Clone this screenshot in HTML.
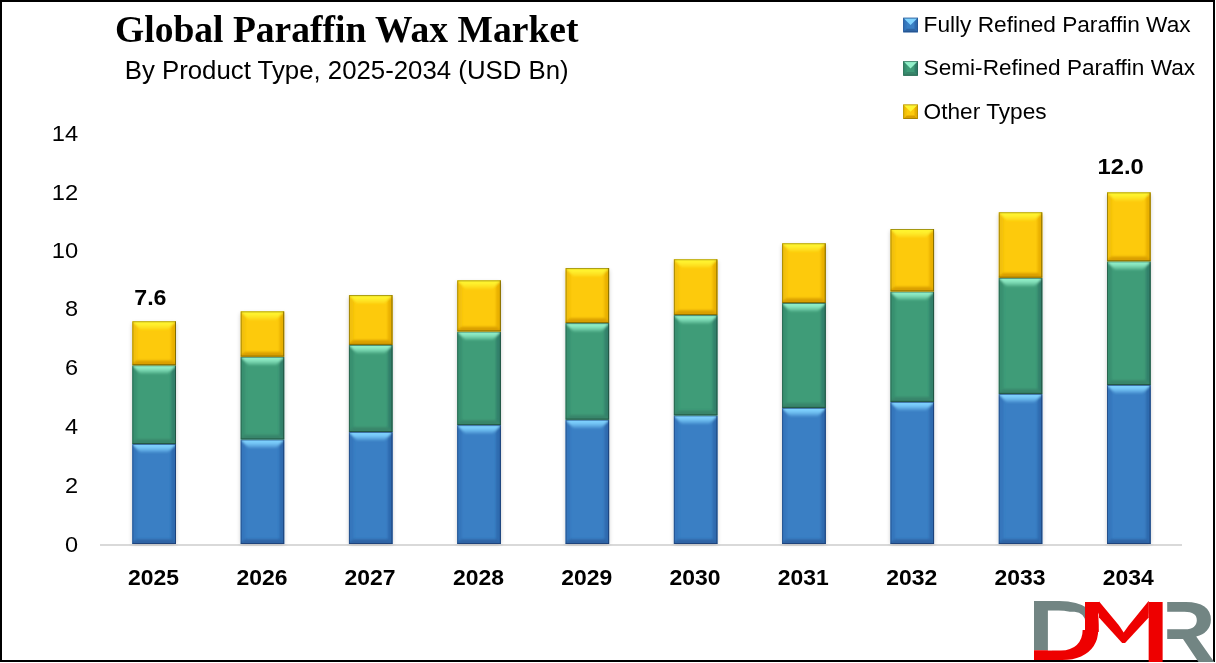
<!DOCTYPE html>
<html lang="en"><head><meta charset="utf-8"><title>Global Paraffin Wax Market</title>
<style>
html,body{margin:0;padding:0;background:#fff;}
body{width:1216px;height:663px;overflow:hidden;position:relative;}
svg{position:absolute;left:0;top:0;display:block;will-change:transform;}
text{font-family:"Liberation Sans",sans-serif;fill:#000;}
.title{font-family:"Liberation Serif",serif;font-weight:bold;font-size:38px;}
.sub{font-size:25.4px;}
.leg{font-size:21.8px;}
.yl{font-size:22px;text-anchor:end;}
.xl{font-size:22.2px;font-weight:bold;text-anchor:middle;}
.dl{font-size:22.3px;font-weight:bold;text-anchor:middle;}
</style></head><body>
<svg width="1216" height="663" viewBox="0 0 1216 663">
<defs><linearGradient id="ty" x1="0" y1="0" x2="0" y2="1"><stop offset="0" stop-color="#FFF530" stop-opacity="0.75"/><stop offset="0.3" stop-color="#FFF530"/><stop offset="0.55" stop-color="#FFF530" stop-opacity="0.9"/><stop offset="1" stop-color="#FFF530" stop-opacity="0.2"/></linearGradient>
<linearGradient id="tg" x1="0" y1="0" x2="0" y2="1"><stop offset="0" stop-color="#92F0C9" stop-opacity="0.75"/><stop offset="0.3" stop-color="#92F0C9"/><stop offset="0.55" stop-color="#92F0C9" stop-opacity="0.9"/><stop offset="1" stop-color="#92F0C9" stop-opacity="0.2"/></linearGradient>
<linearGradient id="tb" x1="0" y1="0" x2="0" y2="1"><stop offset="0" stop-color="#80D3FF" stop-opacity="0.75"/><stop offset="0.3" stop-color="#80D3FF"/><stop offset="0.55" stop-color="#80D3FF" stop-opacity="0.9"/><stop offset="1" stop-color="#80D3FF" stop-opacity="0.2"/></linearGradient>
<filter id="sh" x="-30%" y="-5%" width="160%" height="110%"><feGaussianBlur stdDeviation="2.2"/></filter>
<filter id="bl2" x="-20%" y="-20%" width="140%" height="140%"><feGaussianBlur stdDeviation="0.5"/></filter>
<filter id="bl" x="-20%" y="-20%" width="140%" height="140%"><feGaussianBlur stdDeviation="0.9"/></filter></defs>
<rect x="0" y="0" width="1216" height="663" fill="#fff"/>
<text class="title" x="115.0" y="42.3" textLength="463.5" lengthAdjust="spacingAndGlyphs">Global Paraffin Wax Market</text>
<text class="sub" x="124.7" y="78.8" textLength="444" lengthAdjust="spacingAndGlyphs">By Product Type, 2025-2034 (USD Bn)</text>
<text class="yl" x="78.1" y="552.0" textLength="13.1" lengthAdjust="spacingAndGlyphs">0</text>
<text class="yl" x="78.1" y="493.0" textLength="13.1" lengthAdjust="spacingAndGlyphs">2</text>
<text class="yl" x="78.1" y="433.9" textLength="13.1" lengthAdjust="spacingAndGlyphs">4</text>
<text class="yl" x="78.1" y="374.9" textLength="13.1" lengthAdjust="spacingAndGlyphs">6</text>
<text class="yl" x="78.1" y="316.1" textLength="13.1" lengthAdjust="spacingAndGlyphs">8</text>
<text class="yl" x="78.1" y="258.3" textLength="26.4" lengthAdjust="spacingAndGlyphs">10</text>
<text class="yl" x="78.1" y="200.0" textLength="26.4" lengthAdjust="spacingAndGlyphs">12</text>
<text class="yl" x="78.1" y="140.5" textLength="26.4" lengthAdjust="spacingAndGlyphs">14</text>
<rect x="100" y="544" width="1082" height="2" fill="#D9D9D9"/>
<rect x="132.3" y="323.2" width="43.7" height="220.8" fill="#000" opacity="0.2" filter="url(#sh)"/>
<clipPath id="c1"><rect x="132.3" y="444.0" width="43.7" height="100.0"/></clipPath>
<g clip-path="url(#c1)">
<rect x="132.3" y="444.0" width="43.7" height="100.0" fill="#3A7FC4"/>
<g filter="url(#bl)">
<rect x="129.3" y="441.0" width="7.8" height="106.0" fill="#3476BC"/>
<rect x="171.2" y="441.0" width="7.8" height="106.0" fill="#2D6AAF"/>
<polygon points="129.3,547.0 179.0,547.0 179.0,544.0 171.2,539.2 137.1,539.2 129.3,544.0" fill="#2D64A4"/>
<polygon points="131.3,441.0 177.0,441.0 177.0,443.0 168.0,452.6 140.3,452.6 131.3,443.0" fill="url(#tb)"/>
</g>
<rect x="132.8" y="444.5" width="42.7" height="99.0" fill="none" stroke="#1A3A70" stroke-width="1" opacity="0.62"/>
<rect x="175.0" y="444.0" width="1" height="100.0" fill="#1A3A70" opacity="0.55"/><rect x="132.3" y="543.0" width="43.7" height="1" fill="#1A3A70" opacity="0.35"/>
</g>
<clipPath id="c2"><rect x="132.3" y="365.2" width="43.7" height="78.8"/></clipPath>
<g clip-path="url(#c2)">
<rect x="132.3" y="365.2" width="43.7" height="78.8" fill="#3F9C78"/>
<g filter="url(#bl)">
<rect x="129.3" y="362.2" width="7.8" height="84.8" fill="#379070"/>
<rect x="171.2" y="362.2" width="7.8" height="84.8" fill="#31806A"/>
<polygon points="129.3,447.0 179.0,447.0 179.0,444.0 171.2,439.2 137.1,439.2 129.3,444.0" fill="#38856A"/>
<polygon points="131.3,362.2 177.0,362.2 177.0,364.2 168.0,373.8 140.3,373.8 131.3,364.2" fill="url(#tg)"/>
</g>
<rect x="132.8" y="365.7" width="42.7" height="77.8" fill="none" stroke="#1E4A3A" stroke-width="1" opacity="0.62"/>
<rect x="175.0" y="365.2" width="1" height="78.8" fill="#1E4A3A" opacity="0.55"/><rect x="132.3" y="443.0" width="43.7" height="1" fill="#1E4A3A" opacity="0.35"/>
</g>
<clipPath id="c3"><rect x="132.3" y="321.2" width="43.7" height="44.0"/></clipPath>
<g clip-path="url(#c3)">
<rect x="132.3" y="321.2" width="43.7" height="44.0" fill="#FDCA0C"/>
<g filter="url(#bl)">
<rect x="129.3" y="318.2" width="7.8" height="50.0" fill="#F2C008"/>
<rect x="171.2" y="318.2" width="7.8" height="50.0" fill="#E9B000"/>
<polygon points="129.3,368.2 179.0,368.2 179.0,365.2 171.2,360.4 137.1,360.4 129.3,365.2" fill="#D99F00"/>
<polygon points="131.3,318.2 177.0,318.2 177.0,320.2 168.0,329.8 140.3,329.8 131.3,320.2" fill="url(#ty)"/>
</g>
<rect x="132.8" y="321.7" width="42.7" height="43.0" fill="none" stroke="#6E5F00" stroke-width="1" opacity="0.62"/>
<rect x="175.0" y="321.2" width="1" height="44.0" fill="#6E5F00" opacity="0.55"/><rect x="132.3" y="364.2" width="43.7" height="1" fill="#6E5F00" opacity="0.35"/>
</g>
<text class="xl" x="153.6" y="584.6" textLength="51" lengthAdjust="spacingAndGlyphs">2025</text>
<rect x="240.6" y="313.3" width="43.7" height="230.7" fill="#000" opacity="0.2" filter="url(#sh)"/>
<clipPath id="c4"><rect x="240.6" y="439.5" width="43.7" height="104.5"/></clipPath>
<g clip-path="url(#c4)">
<rect x="240.6" y="439.5" width="43.7" height="104.5" fill="#3A7FC4"/>
<g filter="url(#bl)">
<rect x="237.6" y="436.5" width="7.8" height="110.5" fill="#3476BC"/>
<rect x="279.5" y="436.5" width="7.8" height="110.5" fill="#2D6AAF"/>
<polygon points="237.6,547.0 287.3,547.0 287.3,544.0 279.5,539.2 245.4,539.2 237.6,544.0" fill="#2D64A4"/>
<polygon points="239.6,436.5 285.3,436.5 285.3,438.5 276.3,448.1 248.6,448.1 239.6,438.5" fill="url(#tb)"/>
</g>
<rect x="241.1" y="440.0" width="42.7" height="103.5" fill="none" stroke="#1A3A70" stroke-width="1" opacity="0.62"/>
<rect x="283.3" y="439.5" width="1" height="104.5" fill="#1A3A70" opacity="0.55"/><rect x="240.6" y="543.0" width="43.7" height="1" fill="#1A3A70" opacity="0.35"/>
</g>
<clipPath id="c5"><rect x="240.6" y="356.7" width="43.7" height="82.8"/></clipPath>
<g clip-path="url(#c5)">
<rect x="240.6" y="356.7" width="43.7" height="82.8" fill="#3F9C78"/>
<g filter="url(#bl)">
<rect x="237.6" y="353.7" width="7.8" height="88.8" fill="#379070"/>
<rect x="279.5" y="353.7" width="7.8" height="88.8" fill="#31806A"/>
<polygon points="237.6,442.5 287.3,442.5 287.3,439.5 279.5,434.7 245.4,434.7 237.6,439.5" fill="#38856A"/>
<polygon points="239.6,353.7 285.3,353.7 285.3,355.7 276.3,365.3 248.6,365.3 239.6,355.7" fill="url(#tg)"/>
</g>
<rect x="241.1" y="357.2" width="42.7" height="81.8" fill="none" stroke="#1E4A3A" stroke-width="1" opacity="0.62"/>
<rect x="283.3" y="356.7" width="1" height="82.8" fill="#1E4A3A" opacity="0.55"/><rect x="240.6" y="438.5" width="43.7" height="1" fill="#1E4A3A" opacity="0.35"/>
</g>
<clipPath id="c6"><rect x="240.6" y="311.3" width="43.7" height="45.4"/></clipPath>
<g clip-path="url(#c6)">
<rect x="240.6" y="311.3" width="43.7" height="45.4" fill="#FDCA0C"/>
<g filter="url(#bl)">
<rect x="237.6" y="308.3" width="7.8" height="51.4" fill="#F2C008"/>
<rect x="279.5" y="308.3" width="7.8" height="51.4" fill="#E9B000"/>
<polygon points="237.6,359.7 287.3,359.7 287.3,356.7 279.5,351.9 245.4,351.9 237.6,356.7" fill="#D99F00"/>
<polygon points="239.6,308.3 285.3,308.3 285.3,310.3 276.3,319.9 248.6,319.9 239.6,310.3" fill="url(#ty)"/>
</g>
<rect x="241.1" y="311.8" width="42.7" height="44.4" fill="none" stroke="#6E5F00" stroke-width="1" opacity="0.62"/>
<rect x="283.3" y="311.3" width="1" height="45.4" fill="#6E5F00" opacity="0.55"/><rect x="240.6" y="355.7" width="43.7" height="1" fill="#6E5F00" opacity="0.35"/>
</g>
<text class="xl" x="261.9" y="584.6" textLength="51" lengthAdjust="spacingAndGlyphs">2026</text>
<rect x="348.9" y="297.1" width="43.7" height="246.9" fill="#000" opacity="0.2" filter="url(#sh)"/>
<clipPath id="c7"><rect x="348.9" y="432.0" width="43.7" height="112.0"/></clipPath>
<g clip-path="url(#c7)">
<rect x="348.9" y="432.0" width="43.7" height="112.0" fill="#3A7FC4"/>
<g filter="url(#bl)">
<rect x="345.9" y="429.0" width="7.8" height="118.0" fill="#3476BC"/>
<rect x="387.8" y="429.0" width="7.8" height="118.0" fill="#2D6AAF"/>
<polygon points="345.9,547.0 395.6,547.0 395.6,544.0 387.8,539.2 353.7,539.2 345.9,544.0" fill="#2D64A4"/>
<polygon points="347.9,429.0 393.6,429.0 393.6,431.0 384.6,440.6 356.9,440.6 347.9,431.0" fill="url(#tb)"/>
</g>
<rect x="349.4" y="432.5" width="42.7" height="111.0" fill="none" stroke="#1A3A70" stroke-width="1" opacity="0.62"/>
<rect x="391.6" y="432.0" width="1" height="112.0" fill="#1A3A70" opacity="0.55"/><rect x="348.9" y="543.0" width="43.7" height="1" fill="#1A3A70" opacity="0.35"/>
</g>
<clipPath id="c8"><rect x="348.9" y="344.9" width="43.7" height="87.1"/></clipPath>
<g clip-path="url(#c8)">
<rect x="348.9" y="344.9" width="43.7" height="87.1" fill="#3F9C78"/>
<g filter="url(#bl)">
<rect x="345.9" y="341.9" width="7.8" height="93.1" fill="#379070"/>
<rect x="387.8" y="341.9" width="7.8" height="93.1" fill="#31806A"/>
<polygon points="345.9,435.0 395.6,435.0 395.6,432.0 387.8,427.2 353.7,427.2 345.9,432.0" fill="#38856A"/>
<polygon points="347.9,341.9 393.6,341.9 393.6,343.9 384.6,353.5 356.9,353.5 347.9,343.9" fill="url(#tg)"/>
</g>
<rect x="349.4" y="345.4" width="42.7" height="86.1" fill="none" stroke="#1E4A3A" stroke-width="1" opacity="0.62"/>
<rect x="391.6" y="344.9" width="1" height="87.1" fill="#1E4A3A" opacity="0.55"/><rect x="348.9" y="431.0" width="43.7" height="1" fill="#1E4A3A" opacity="0.35"/>
</g>
<clipPath id="c9"><rect x="348.9" y="295.1" width="43.7" height="49.8"/></clipPath>
<g clip-path="url(#c9)">
<rect x="348.9" y="295.1" width="43.7" height="49.8" fill="#FDCA0C"/>
<g filter="url(#bl)">
<rect x="345.9" y="292.1" width="7.8" height="55.8" fill="#F2C008"/>
<rect x="387.8" y="292.1" width="7.8" height="55.8" fill="#E9B000"/>
<polygon points="345.9,347.9 395.6,347.9 395.6,344.9 387.8,340.1 353.7,340.1 345.9,344.9" fill="#D99F00"/>
<polygon points="347.9,292.1 393.6,292.1 393.6,294.1 384.6,303.7 356.9,303.7 347.9,294.1" fill="url(#ty)"/>
</g>
<rect x="349.4" y="295.6" width="42.7" height="48.8" fill="none" stroke="#6E5F00" stroke-width="1" opacity="0.62"/>
<rect x="391.6" y="295.1" width="1" height="49.8" fill="#6E5F00" opacity="0.55"/><rect x="348.9" y="343.9" width="43.7" height="1" fill="#6E5F00" opacity="0.35"/>
</g>
<text class="xl" x="370.1" y="584.6" textLength="51" lengthAdjust="spacingAndGlyphs">2027</text>
<rect x="457.2" y="282.3" width="43.7" height="261.7" fill="#000" opacity="0.2" filter="url(#sh)"/>
<clipPath id="c10"><rect x="457.2" y="425.1" width="43.7" height="118.9"/></clipPath>
<g clip-path="url(#c10)">
<rect x="457.2" y="425.1" width="43.7" height="118.9" fill="#3A7FC4"/>
<g filter="url(#bl)">
<rect x="454.2" y="422.1" width="7.8" height="124.9" fill="#3476BC"/>
<rect x="496.1" y="422.1" width="7.8" height="124.9" fill="#2D6AAF"/>
<polygon points="454.2,547.0 503.9,547.0 503.9,544.0 496.1,539.2 462.0,539.2 454.2,544.0" fill="#2D64A4"/>
<polygon points="456.2,422.1 501.9,422.1 501.9,424.1 492.9,433.7 465.2,433.7 456.2,424.1" fill="url(#tb)"/>
</g>
<rect x="457.7" y="425.6" width="42.7" height="117.9" fill="none" stroke="#1A3A70" stroke-width="1" opacity="0.62"/>
<rect x="499.9" y="425.1" width="1" height="118.9" fill="#1A3A70" opacity="0.55"/><rect x="457.2" y="543.0" width="43.7" height="1" fill="#1A3A70" opacity="0.35"/>
</g>
<clipPath id="c11"><rect x="457.2" y="331.5" width="43.7" height="93.6"/></clipPath>
<g clip-path="url(#c11)">
<rect x="457.2" y="331.5" width="43.7" height="93.6" fill="#3F9C78"/>
<g filter="url(#bl)">
<rect x="454.2" y="328.5" width="7.8" height="99.6" fill="#379070"/>
<rect x="496.1" y="328.5" width="7.8" height="99.6" fill="#31806A"/>
<polygon points="454.2,428.1 503.9,428.1 503.9,425.1 496.1,420.3 462.0,420.3 454.2,425.1" fill="#38856A"/>
<polygon points="456.2,328.5 501.9,328.5 501.9,330.5 492.9,340.1 465.2,340.1 456.2,330.5" fill="url(#tg)"/>
</g>
<rect x="457.7" y="332.0" width="42.7" height="92.6" fill="none" stroke="#1E4A3A" stroke-width="1" opacity="0.62"/>
<rect x="499.9" y="331.5" width="1" height="93.6" fill="#1E4A3A" opacity="0.55"/><rect x="457.2" y="424.1" width="43.7" height="1" fill="#1E4A3A" opacity="0.35"/>
</g>
<clipPath id="c12"><rect x="457.2" y="280.3" width="43.7" height="51.2"/></clipPath>
<g clip-path="url(#c12)">
<rect x="457.2" y="280.3" width="43.7" height="51.2" fill="#FDCA0C"/>
<g filter="url(#bl)">
<rect x="454.2" y="277.3" width="7.8" height="57.2" fill="#F2C008"/>
<rect x="496.1" y="277.3" width="7.8" height="57.2" fill="#E9B000"/>
<polygon points="454.2,334.5 503.9,334.5 503.9,331.5 496.1,326.7 462.0,326.7 454.2,331.5" fill="#D99F00"/>
<polygon points="456.2,277.3 501.9,277.3 501.9,279.3 492.9,288.9 465.2,288.9 456.2,279.3" fill="url(#ty)"/>
</g>
<rect x="457.7" y="280.8" width="42.7" height="50.2" fill="none" stroke="#6E5F00" stroke-width="1" opacity="0.62"/>
<rect x="499.9" y="280.3" width="1" height="51.2" fill="#6E5F00" opacity="0.55"/><rect x="457.2" y="330.5" width="43.7" height="1" fill="#6E5F00" opacity="0.35"/>
</g>
<text class="xl" x="478.4" y="584.6" textLength="51" lengthAdjust="spacingAndGlyphs">2028</text>
<rect x="565.5" y="270.1" width="43.7" height="273.9" fill="#000" opacity="0.2" filter="url(#sh)"/>
<clipPath id="c13"><rect x="565.5" y="419.7" width="43.7" height="124.3"/></clipPath>
<g clip-path="url(#c13)">
<rect x="565.5" y="419.7" width="43.7" height="124.3" fill="#3A7FC4"/>
<g filter="url(#bl)">
<rect x="562.5" y="416.7" width="7.8" height="130.3" fill="#3476BC"/>
<rect x="604.4" y="416.7" width="7.8" height="130.3" fill="#2D6AAF"/>
<polygon points="562.5,547.0 612.2,547.0 612.2,544.0 604.4,539.2 570.3,539.2 562.5,544.0" fill="#2D64A4"/>
<polygon points="564.5,416.7 610.2,416.7 610.2,418.7 601.2,428.3 573.5,428.3 564.5,418.7" fill="url(#tb)"/>
</g>
<rect x="566.0" y="420.2" width="42.7" height="123.3" fill="none" stroke="#1A3A70" stroke-width="1" opacity="0.62"/>
<rect x="608.2" y="419.7" width="1" height="124.3" fill="#1A3A70" opacity="0.55"/><rect x="565.5" y="543.0" width="43.7" height="1" fill="#1A3A70" opacity="0.35"/>
</g>
<clipPath id="c14"><rect x="565.5" y="323.1" width="43.7" height="96.6"/></clipPath>
<g clip-path="url(#c14)">
<rect x="565.5" y="323.1" width="43.7" height="96.6" fill="#3F9C78"/>
<g filter="url(#bl)">
<rect x="562.5" y="320.1" width="7.8" height="102.6" fill="#379070"/>
<rect x="604.4" y="320.1" width="7.8" height="102.6" fill="#31806A"/>
<polygon points="562.5,422.7 612.2,422.7 612.2,419.7 604.4,414.9 570.3,414.9 562.5,419.7" fill="#38856A"/>
<polygon points="564.5,320.1 610.2,320.1 610.2,322.1 601.2,331.7 573.5,331.7 564.5,322.1" fill="url(#tg)"/>
</g>
<rect x="566.0" y="323.6" width="42.7" height="95.6" fill="none" stroke="#1E4A3A" stroke-width="1" opacity="0.62"/>
<rect x="608.2" y="323.1" width="1" height="96.6" fill="#1E4A3A" opacity="0.55"/><rect x="565.5" y="418.7" width="43.7" height="1" fill="#1E4A3A" opacity="0.35"/>
</g>
<clipPath id="c15"><rect x="565.5" y="268.1" width="43.7" height="55.0"/></clipPath>
<g clip-path="url(#c15)">
<rect x="565.5" y="268.1" width="43.7" height="55.0" fill="#FDCA0C"/>
<g filter="url(#bl)">
<rect x="562.5" y="265.1" width="7.8" height="61.0" fill="#F2C008"/>
<rect x="604.4" y="265.1" width="7.8" height="61.0" fill="#E9B000"/>
<polygon points="562.5,326.1 612.2,326.1 612.2,323.1 604.4,318.3 570.3,318.3 562.5,323.1" fill="#D99F00"/>
<polygon points="564.5,265.1 610.2,265.1 610.2,267.1 601.2,276.7 573.5,276.7 564.5,267.1" fill="url(#ty)"/>
</g>
<rect x="566.0" y="268.6" width="42.7" height="54.0" fill="none" stroke="#6E5F00" stroke-width="1" opacity="0.62"/>
<rect x="608.2" y="268.1" width="1" height="55.0" fill="#6E5F00" opacity="0.55"/><rect x="565.5" y="322.1" width="43.7" height="1" fill="#6E5F00" opacity="0.35"/>
</g>
<text class="xl" x="586.8" y="584.6" textLength="51" lengthAdjust="spacingAndGlyphs">2029</text>
<rect x="673.8" y="261.2" width="43.7" height="282.8" fill="#000" opacity="0.2" filter="url(#sh)"/>
<clipPath id="c16"><rect x="673.8" y="415.4" width="43.7" height="128.6"/></clipPath>
<g clip-path="url(#c16)">
<rect x="673.8" y="415.4" width="43.7" height="128.6" fill="#3A7FC4"/>
<g filter="url(#bl)">
<rect x="670.8" y="412.4" width="7.8" height="134.6" fill="#3476BC"/>
<rect x="712.7" y="412.4" width="7.8" height="134.6" fill="#2D6AAF"/>
<polygon points="670.8,547.0 720.5,547.0 720.5,544.0 712.7,539.2 678.6,539.2 670.8,544.0" fill="#2D64A4"/>
<polygon points="672.8,412.4 718.5,412.4 718.5,414.4 709.5,424.0 681.8,424.0 672.8,414.4" fill="url(#tb)"/>
</g>
<rect x="674.3" y="415.9" width="42.7" height="127.6" fill="none" stroke="#1A3A70" stroke-width="1" opacity="0.62"/>
<rect x="716.5" y="415.4" width="1" height="128.6" fill="#1A3A70" opacity="0.55"/><rect x="673.8" y="543.0" width="43.7" height="1" fill="#1A3A70" opacity="0.35"/>
</g>
<clipPath id="c17"><rect x="673.8" y="315.1" width="43.7" height="100.3"/></clipPath>
<g clip-path="url(#c17)">
<rect x="673.8" y="315.1" width="43.7" height="100.3" fill="#3F9C78"/>
<g filter="url(#bl)">
<rect x="670.8" y="312.1" width="7.8" height="106.3" fill="#379070"/>
<rect x="712.7" y="312.1" width="7.8" height="106.3" fill="#31806A"/>
<polygon points="670.8,418.4 720.5,418.4 720.5,415.4 712.7,410.6 678.6,410.6 670.8,415.4" fill="#38856A"/>
<polygon points="672.8,312.1 718.5,312.1 718.5,314.1 709.5,323.7 681.8,323.7 672.8,314.1" fill="url(#tg)"/>
</g>
<rect x="674.3" y="315.6" width="42.7" height="99.3" fill="none" stroke="#1E4A3A" stroke-width="1" opacity="0.62"/>
<rect x="716.5" y="315.1" width="1" height="100.3" fill="#1E4A3A" opacity="0.55"/><rect x="673.8" y="414.4" width="43.7" height="1" fill="#1E4A3A" opacity="0.35"/>
</g>
<clipPath id="c18"><rect x="673.8" y="259.2" width="43.7" height="55.9"/></clipPath>
<g clip-path="url(#c18)">
<rect x="673.8" y="259.2" width="43.7" height="55.9" fill="#FDCA0C"/>
<g filter="url(#bl)">
<rect x="670.8" y="256.2" width="7.8" height="61.9" fill="#F2C008"/>
<rect x="712.7" y="256.2" width="7.8" height="61.9" fill="#E9B000"/>
<polygon points="670.8,318.1 720.5,318.1 720.5,315.1 712.7,310.3 678.6,310.3 670.8,315.1" fill="#D99F00"/>
<polygon points="672.8,256.2 718.5,256.2 718.5,258.2 709.5,267.8 681.8,267.8 672.8,258.2" fill="url(#ty)"/>
</g>
<rect x="674.3" y="259.7" width="42.7" height="54.9" fill="none" stroke="#6E5F00" stroke-width="1" opacity="0.62"/>
<rect x="716.5" y="259.2" width="1" height="55.9" fill="#6E5F00" opacity="0.55"/><rect x="673.8" y="314.1" width="43.7" height="1" fill="#6E5F00" opacity="0.35"/>
</g>
<text class="xl" x="695.0" y="584.6" textLength="51" lengthAdjust="spacingAndGlyphs">2030</text>
<rect x="782.1" y="245.2" width="43.7" height="298.8" fill="#000" opacity="0.2" filter="url(#sh)"/>
<clipPath id="c19"><rect x="782.1" y="407.9" width="43.7" height="136.1"/></clipPath>
<g clip-path="url(#c19)">
<rect x="782.1" y="407.9" width="43.7" height="136.1" fill="#3A7FC4"/>
<g filter="url(#bl)">
<rect x="779.1" y="404.9" width="7.8" height="142.1" fill="#3476BC"/>
<rect x="821.0" y="404.9" width="7.8" height="142.1" fill="#2D6AAF"/>
<polygon points="779.1,547.0 828.8,547.0 828.8,544.0 821.0,539.2 786.9,539.2 779.1,544.0" fill="#2D64A4"/>
<polygon points="781.1,404.9 826.8,404.9 826.8,406.9 817.8,416.5 790.1,416.5 781.1,406.9" fill="url(#tb)"/>
</g>
<rect x="782.6" y="408.4" width="42.7" height="135.1" fill="none" stroke="#1A3A70" stroke-width="1" opacity="0.62"/>
<rect x="824.8" y="407.9" width="1" height="136.1" fill="#1A3A70" opacity="0.55"/><rect x="782.1" y="543.0" width="43.7" height="1" fill="#1A3A70" opacity="0.35"/>
</g>
<clipPath id="c20"><rect x="782.1" y="303.0" width="43.7" height="104.9"/></clipPath>
<g clip-path="url(#c20)">
<rect x="782.1" y="303.0" width="43.7" height="104.9" fill="#3F9C78"/>
<g filter="url(#bl)">
<rect x="779.1" y="300.0" width="7.8" height="110.9" fill="#379070"/>
<rect x="821.0" y="300.0" width="7.8" height="110.9" fill="#31806A"/>
<polygon points="779.1,410.9 828.8,410.9 828.8,407.9 821.0,403.1 786.9,403.1 779.1,407.9" fill="#38856A"/>
<polygon points="781.1,300.0 826.8,300.0 826.8,302.0 817.8,311.6 790.1,311.6 781.1,302.0" fill="url(#tg)"/>
</g>
<rect x="782.6" y="303.5" width="42.7" height="103.9" fill="none" stroke="#1E4A3A" stroke-width="1" opacity="0.62"/>
<rect x="824.8" y="303.0" width="1" height="104.9" fill="#1E4A3A" opacity="0.55"/><rect x="782.1" y="406.9" width="43.7" height="1" fill="#1E4A3A" opacity="0.35"/>
</g>
<clipPath id="c21"><rect x="782.1" y="243.2" width="43.7" height="59.8"/></clipPath>
<g clip-path="url(#c21)">
<rect x="782.1" y="243.2" width="43.7" height="59.8" fill="#FDCA0C"/>
<g filter="url(#bl)">
<rect x="779.1" y="240.2" width="7.8" height="65.8" fill="#F2C008"/>
<rect x="821.0" y="240.2" width="7.8" height="65.8" fill="#E9B000"/>
<polygon points="779.1,306.0 828.8,306.0 828.8,303.0 821.0,298.2 786.9,298.2 779.1,303.0" fill="#D99F00"/>
<polygon points="781.1,240.2 826.8,240.2 826.8,242.2 817.8,251.8 790.1,251.8 781.1,242.2" fill="url(#ty)"/>
</g>
<rect x="782.6" y="243.7" width="42.7" height="58.8" fill="none" stroke="#6E5F00" stroke-width="1" opacity="0.62"/>
<rect x="824.8" y="243.2" width="1" height="59.8" fill="#6E5F00" opacity="0.55"/><rect x="782.1" y="302.0" width="43.7" height="1" fill="#6E5F00" opacity="0.35"/>
</g>
<text class="xl" x="803.3" y="584.6" textLength="51" lengthAdjust="spacingAndGlyphs">2031</text>
<rect x="890.4" y="231.0" width="43.7" height="313.0" fill="#000" opacity="0.2" filter="url(#sh)"/>
<clipPath id="c22"><rect x="890.4" y="401.9" width="43.7" height="142.1"/></clipPath>
<g clip-path="url(#c22)">
<rect x="890.4" y="401.9" width="43.7" height="142.1" fill="#3A7FC4"/>
<g filter="url(#bl)">
<rect x="887.4" y="398.9" width="7.8" height="148.1" fill="#3476BC"/>
<rect x="929.3" y="398.9" width="7.8" height="148.1" fill="#2D6AAF"/>
<polygon points="887.4,547.0 937.1,547.0 937.1,544.0 929.3,539.2 895.2,539.2 887.4,544.0" fill="#2D64A4"/>
<polygon points="889.4,398.9 935.1,398.9 935.1,400.9 926.1,410.5 898.4,410.5 889.4,400.9" fill="url(#tb)"/>
</g>
<rect x="890.9" y="402.4" width="42.7" height="141.1" fill="none" stroke="#1A3A70" stroke-width="1" opacity="0.62"/>
<rect x="933.1" y="401.9" width="1" height="142.1" fill="#1A3A70" opacity="0.55"/><rect x="890.4" y="543.0" width="43.7" height="1" fill="#1A3A70" opacity="0.35"/>
</g>
<clipPath id="c23"><rect x="890.4" y="291.5" width="43.7" height="110.4"/></clipPath>
<g clip-path="url(#c23)">
<rect x="890.4" y="291.5" width="43.7" height="110.4" fill="#3F9C78"/>
<g filter="url(#bl)">
<rect x="887.4" y="288.5" width="7.8" height="116.4" fill="#379070"/>
<rect x="929.3" y="288.5" width="7.8" height="116.4" fill="#31806A"/>
<polygon points="887.4,404.9 937.1,404.9 937.1,401.9 929.3,397.1 895.2,397.1 887.4,401.9" fill="#38856A"/>
<polygon points="889.4,288.5 935.1,288.5 935.1,290.5 926.1,300.1 898.4,300.1 889.4,290.5" fill="url(#tg)"/>
</g>
<rect x="890.9" y="292.0" width="42.7" height="109.4" fill="none" stroke="#1E4A3A" stroke-width="1" opacity="0.62"/>
<rect x="933.1" y="291.5" width="1" height="110.4" fill="#1E4A3A" opacity="0.55"/><rect x="890.4" y="400.9" width="43.7" height="1" fill="#1E4A3A" opacity="0.35"/>
</g>
<clipPath id="c24"><rect x="890.4" y="229.0" width="43.7" height="62.5"/></clipPath>
<g clip-path="url(#c24)">
<rect x="890.4" y="229.0" width="43.7" height="62.5" fill="#FDCA0C"/>
<g filter="url(#bl)">
<rect x="887.4" y="226.0" width="7.8" height="68.5" fill="#F2C008"/>
<rect x="929.3" y="226.0" width="7.8" height="68.5" fill="#E9B000"/>
<polygon points="887.4,294.5 937.1,294.5 937.1,291.5 929.3,286.7 895.2,286.7 887.4,291.5" fill="#D99F00"/>
<polygon points="889.4,226.0 935.1,226.0 935.1,228.0 926.1,237.6 898.4,237.6 889.4,228.0" fill="url(#ty)"/>
</g>
<rect x="890.9" y="229.5" width="42.7" height="61.5" fill="none" stroke="#6E5F00" stroke-width="1" opacity="0.62"/>
<rect x="933.1" y="229.0" width="1" height="62.5" fill="#6E5F00" opacity="0.55"/><rect x="890.4" y="290.5" width="43.7" height="1" fill="#6E5F00" opacity="0.35"/>
</g>
<text class="xl" x="911.7" y="584.6" textLength="51" lengthAdjust="spacingAndGlyphs">2032</text>
<rect x="998.7" y="214.2" width="43.7" height="329.8" fill="#000" opacity="0.2" filter="url(#sh)"/>
<clipPath id="c25"><rect x="998.7" y="393.9" width="43.7" height="150.1"/></clipPath>
<g clip-path="url(#c25)">
<rect x="998.7" y="393.9" width="43.7" height="150.1" fill="#3A7FC4"/>
<g filter="url(#bl)">
<rect x="995.7" y="390.9" width="7.8" height="156.1" fill="#3476BC"/>
<rect x="1037.6" y="390.9" width="7.8" height="156.1" fill="#2D6AAF"/>
<polygon points="995.7,547.0 1045.4,547.0 1045.4,544.0 1037.6,539.2 1003.5,539.2 995.7,544.0" fill="#2D64A4"/>
<polygon points="997.7,390.9 1043.4,390.9 1043.4,392.9 1034.4,402.5 1006.7,402.5 997.7,392.9" fill="url(#tb)"/>
</g>
<rect x="999.2" y="394.4" width="42.7" height="149.1" fill="none" stroke="#1A3A70" stroke-width="1" opacity="0.62"/>
<rect x="1041.4" y="393.9" width="1" height="150.1" fill="#1A3A70" opacity="0.55"/><rect x="998.7" y="543.0" width="43.7" height="1" fill="#1A3A70" opacity="0.35"/>
</g>
<clipPath id="c26"><rect x="998.7" y="277.8" width="43.7" height="116.1"/></clipPath>
<g clip-path="url(#c26)">
<rect x="998.7" y="277.8" width="43.7" height="116.1" fill="#3F9C78"/>
<g filter="url(#bl)">
<rect x="995.7" y="274.8" width="7.8" height="122.1" fill="#379070"/>
<rect x="1037.6" y="274.8" width="7.8" height="122.1" fill="#31806A"/>
<polygon points="995.7,396.9 1045.4,396.9 1045.4,393.9 1037.6,389.1 1003.5,389.1 995.7,393.9" fill="#38856A"/>
<polygon points="997.7,274.8 1043.4,274.8 1043.4,276.8 1034.4,286.4 1006.7,286.4 997.7,276.8" fill="url(#tg)"/>
</g>
<rect x="999.2" y="278.3" width="42.7" height="115.1" fill="none" stroke="#1E4A3A" stroke-width="1" opacity="0.62"/>
<rect x="1041.4" y="277.8" width="1" height="116.1" fill="#1E4A3A" opacity="0.55"/><rect x="998.7" y="392.9" width="43.7" height="1" fill="#1E4A3A" opacity="0.35"/>
</g>
<clipPath id="c27"><rect x="998.7" y="212.2" width="43.7" height="65.6"/></clipPath>
<g clip-path="url(#c27)">
<rect x="998.7" y="212.2" width="43.7" height="65.6" fill="#FDCA0C"/>
<g filter="url(#bl)">
<rect x="995.7" y="209.2" width="7.8" height="71.6" fill="#F2C008"/>
<rect x="1037.6" y="209.2" width="7.8" height="71.6" fill="#E9B000"/>
<polygon points="995.7,280.8 1045.4,280.8 1045.4,277.8 1037.6,273.0 1003.5,273.0 995.7,277.8" fill="#D99F00"/>
<polygon points="997.7,209.2 1043.4,209.2 1043.4,211.2 1034.4,220.8 1006.7,220.8 997.7,211.2" fill="url(#ty)"/>
</g>
<rect x="999.2" y="212.7" width="42.7" height="64.6" fill="none" stroke="#6E5F00" stroke-width="1" opacity="0.62"/>
<rect x="1041.4" y="212.2" width="1" height="65.6" fill="#6E5F00" opacity="0.55"/><rect x="998.7" y="276.8" width="43.7" height="1" fill="#6E5F00" opacity="0.35"/>
</g>
<text class="xl" x="1020.0" y="584.6" textLength="51" lengthAdjust="spacingAndGlyphs">2033</text>
<rect x="1107.0" y="194.3" width="43.7" height="349.7" fill="#000" opacity="0.2" filter="url(#sh)"/>
<clipPath id="c28"><rect x="1107.0" y="385.0" width="43.7" height="159.0"/></clipPath>
<g clip-path="url(#c28)">
<rect x="1107.0" y="385.0" width="43.7" height="159.0" fill="#3A7FC4"/>
<g filter="url(#bl)">
<rect x="1104.0" y="382.0" width="7.8" height="165.0" fill="#3476BC"/>
<rect x="1145.9" y="382.0" width="7.8" height="165.0" fill="#2D6AAF"/>
<polygon points="1104.0,547.0 1153.7,547.0 1153.7,544.0 1145.9,539.2 1111.8,539.2 1104.0,544.0" fill="#2D64A4"/>
<polygon points="1106.0,382.0 1151.7,382.0 1151.7,384.0 1142.7,393.6 1115.0,393.6 1106.0,384.0" fill="url(#tb)"/>
</g>
<rect x="1107.5" y="385.5" width="42.7" height="158.0" fill="none" stroke="#1A3A70" stroke-width="1" opacity="0.62"/>
<rect x="1149.7" y="385.0" width="1" height="159.0" fill="#1A3A70" opacity="0.55"/><rect x="1107.0" y="543.0" width="43.7" height="1" fill="#1A3A70" opacity="0.35"/>
</g>
<clipPath id="c29"><rect x="1107.0" y="261.3" width="43.7" height="123.7"/></clipPath>
<g clip-path="url(#c29)">
<rect x="1107.0" y="261.3" width="43.7" height="123.7" fill="#3F9C78"/>
<g filter="url(#bl)">
<rect x="1104.0" y="258.3" width="7.8" height="129.7" fill="#379070"/>
<rect x="1145.9" y="258.3" width="7.8" height="129.7" fill="#31806A"/>
<polygon points="1104.0,388.0 1153.7,388.0 1153.7,385.0 1145.9,380.2 1111.8,380.2 1104.0,385.0" fill="#38856A"/>
<polygon points="1106.0,258.3 1151.7,258.3 1151.7,260.3 1142.7,269.9 1115.0,269.9 1106.0,260.3" fill="url(#tg)"/>
</g>
<rect x="1107.5" y="261.8" width="42.7" height="122.7" fill="none" stroke="#1E4A3A" stroke-width="1" opacity="0.62"/>
<rect x="1149.7" y="261.3" width="1" height="123.7" fill="#1E4A3A" opacity="0.55"/><rect x="1107.0" y="384.0" width="43.7" height="1" fill="#1E4A3A" opacity="0.35"/>
</g>
<clipPath id="c30"><rect x="1107.0" y="192.3" width="43.7" height="69.0"/></clipPath>
<g clip-path="url(#c30)">
<rect x="1107.0" y="192.3" width="43.7" height="69.0" fill="#FDCA0C"/>
<g filter="url(#bl)">
<rect x="1104.0" y="189.3" width="7.8" height="75.0" fill="#F2C008"/>
<rect x="1145.9" y="189.3" width="7.8" height="75.0" fill="#E9B000"/>
<polygon points="1104.0,264.3 1153.7,264.3 1153.7,261.3 1145.9,256.5 1111.8,256.5 1104.0,261.3" fill="#D99F00"/>
<polygon points="1106.0,189.3 1151.7,189.3 1151.7,191.3 1142.7,200.9 1115.0,200.9 1106.0,191.3" fill="url(#ty)"/>
</g>
<rect x="1107.5" y="192.8" width="42.7" height="68.0" fill="none" stroke="#6E5F00" stroke-width="1" opacity="0.62"/>
<rect x="1149.7" y="192.3" width="1" height="69.0" fill="#6E5F00" opacity="0.55"/><rect x="1107.0" y="260.3" width="43.7" height="1" fill="#6E5F00" opacity="0.35"/>
</g>
<text class="xl" x="1128.2" y="584.6" textLength="51" lengthAdjust="spacingAndGlyphs">2034</text>
<text class="dl" x="150.4" y="304.6" textLength="32.2" lengthAdjust="spacingAndGlyphs">7.6</text>
<text class="dl" x="1120.7" y="173.9" textLength="46.3" lengthAdjust="spacingAndGlyphs">12.0</text>
<rect x="903.2" y="17.7" width="14.7" height="14.6" fill="#3A7FC4"/>
<polygon points="903.2,17.7 906.6,21.099999999999998 906.6,28.699999999999996 903.2,32.3" fill="#3476BC"/>
<polygon points="917.9000000000001,17.7 914.5000000000001,21.099999999999998 914.5000000000001,28.699999999999996 917.9000000000001,32.3" fill="#2D6AAF"/>
<polygon points="903.2,32.3 917.9000000000001,32.3 914.3000000000001,28.699999999999996 906.8000000000001,28.699999999999996" fill="#2D64A4"/>
<polygon points="903.7,18.2 917.4000000000001,18.2 910.55,25.05" fill="#80D3FF" filter="url(#bl2)"/>
<rect x="903.7" y="18.2" width="13.7" height="13.6" fill="none" stroke="#1A3A70" stroke-width="1" opacity="0.45"/>
<text class="leg" x="923.6" y="31.9" textLength="267.0" lengthAdjust="spacingAndGlyphs">Fully Refined Paraffin Wax</text>
<rect x="903.2" y="61.1" width="14.7" height="14.6" fill="#3F9C78"/>
<polygon points="903.2,61.1 906.6,64.5 906.6,72.10000000000001 903.2,75.7" fill="#379070"/>
<polygon points="917.9000000000001,61.1 914.5000000000001,64.5 914.5000000000001,72.10000000000001 917.9000000000001,75.7" fill="#31806A"/>
<polygon points="903.2,75.7 917.9000000000001,75.7 914.3000000000001,72.10000000000001 906.8000000000001,72.10000000000001" fill="#38856A"/>
<polygon points="903.7,61.6 917.4000000000001,61.6 910.55,68.45" fill="#92F0C9" filter="url(#bl2)"/>
<rect x="903.7" y="61.6" width="13.7" height="13.6" fill="none" stroke="#1E4A3A" stroke-width="1" opacity="0.45"/>
<text class="leg" x="923.6" y="75.3" textLength="271.5" lengthAdjust="spacingAndGlyphs">Semi-Refined Paraffin Wax</text>
<rect x="903.2" y="104.4" width="14.7" height="14.6" fill="#FDCA0C"/>
<polygon points="903.2,104.4 906.6,107.80000000000001 906.6,115.4 903.2,119.0" fill="#F2C008"/>
<polygon points="917.9000000000001,104.4 914.5000000000001,107.80000000000001 914.5000000000001,115.4 917.9000000000001,119.0" fill="#E9B000"/>
<polygon points="903.2,119.0 917.9000000000001,119.0 914.3000000000001,115.4 906.8000000000001,115.4" fill="#D99F00"/>
<polygon points="903.7,104.9 917.4000000000001,104.9 910.55,111.75" fill="#FFF530" filter="url(#bl2)"/>
<rect x="903.7" y="104.9" width="13.7" height="13.6" fill="none" stroke="#6E5F00" stroke-width="1" opacity="0.45"/>
<text class="leg" x="923.6" y="118.6" textLength="123.0" lengthAdjust="spacingAndGlyphs">Other Types</text>
<rect x="1" y="1" width="1213" height="660" fill="none" stroke="#000" stroke-width="2"/>
<g style="font-family:'Liberation Sans',sans-serif;font-weight:bold">
<clipPath id="lcg"><polygon points="1034,596 1085.5,596 1085.5,622 1084.6,618.2 1082.4,615 1079,612.8 1074.5,611.8 1052,611.8 1052,650.2 1034,650.2"/></clipPath>
<clipPath id="lcr"><polygon points="1085.5,596 1106,596 1106,663 1034,663 1034,650.2 1052,650.2 1052,630 1085.5,630"/></clipPath>
<clipPath id="lcm"><rect x="1148.5" y="596" width="14.6" height="66"/><rect x="1085" y="596" width="14.2" height="36"/></clipPath>
<clipPath id="lcv"><polygon points="1099,596 1148.7,596 1148.7,617.5 1124.6,643.6 1122.6,643.6 1099,617.5"/></clipPath>
<clipPath id="lcR"><rect x="1167.2" y="596" width="49" height="66.5"/></clipPath>
<g clip-path="url(#lcg)"><text transform="translate(1025.2,660) scale(1.262,1)" style="fill:#728583;font-size:85px">D</text></g>
<g clip-path="url(#lcr)"><text transform="translate(1025.2,660) scale(1.262,1)" style="fill:#EE0000;font-size:85px">D</text></g>
<g clip-path="url(#lcv)"><text transform="translate(1057.4,643.3) scale(2.6,1)" style="fill:#EE0000;font-size:61px">M</text></g>
<g clip-path="url(#lcm)"><text transform="translate(1076.9,662) scale(1.27,1)" style="fill:#EE0000;font-size:88px">M</text></g>
<g clip-path="url(#lcR)"><text transform="translate(1146.2,662) scale(1.10,1)" style="fill:#728583;font-size:88px">R</text></g>
</g>
</svg></body></html>
